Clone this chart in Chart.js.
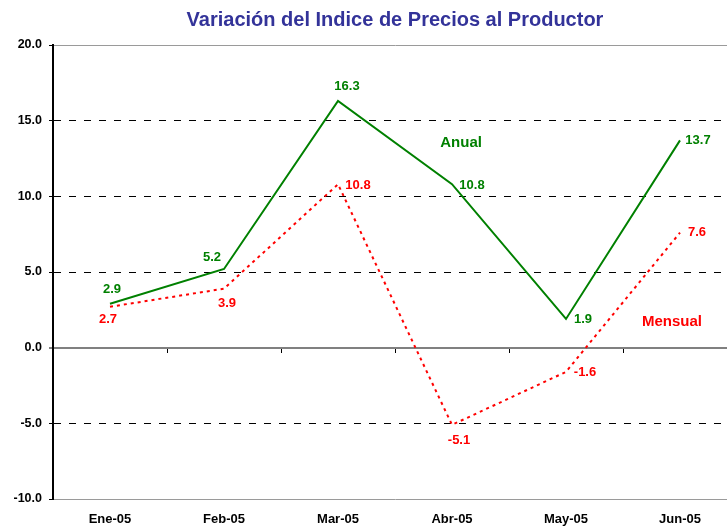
<!DOCTYPE html>
<html>
<head>
<meta charset="utf-8">
<script src="https://cdn.jsdelivr.net/npm/chart.js@4"></script>
<style>
html, body { margin:0; padding:0; overflow:hidden; background:#fff; width:727px; height:526px; }
#wrap { position:absolute; left:0; top:0; width:790px; height:526px; }
</style>
</head>
<body>
<div id="wrap"><canvas id="c"></canvas></div>
<script>
const categories = ['Ene-05','Feb-05','Mar-05','Abr-05','May-05','Jun-05'];
const anual = [2.9, 5.2, 16.3, 10.8, 1.9, 13.7];
const mensual = [2.7, 3.9, 10.8, -5.1, -1.6, 7.6];
const yTicks = [-10, -5, 0, 5, 10, 15, 20];
const seriesNames = ['Anual', 'Mensual'];
const titleText = 'Variación del Indice de Precios al Productor';

// label placement (pixel offsets from the point) — style only
const labelOffsets = [
  [[2,-14],[-12,-12],[9,-15],[20,1],[17,1],[18,0]],
  [[-2,13],[3,15],[20,1],[7,16],[19,1],[17,0]]
];
// series name annotation anchors (in data space: category index, value)
const nameAnchors = [[3.08, 13.55], [4.93, 1.72]];

const FONT = "'Liberation Sans', Arial, sans-serif";
const GREEN = '#008000';
const RED = '#ff0000';
const colors = [GREEN, RED];

const labelPlugin = {
  id: 'labels',
  afterDatasetsDraw(chart) {
    const ctx = chart.ctx;
    ctx.save();
    ctx.textAlign = 'center';
    ctx.textBaseline = 'middle';
    chart.data.datasets.forEach((ds, di) => {
      const meta = chart.getDatasetMeta(di);
      ctx.fillStyle = colors[di];
      ctx.font = 'bold 13px ' + FONT;
      meta.data.forEach((pt, i) => {
        const off = labelOffsets[di][i];
        ctx.fillText(ds.data[i].toFixed(1), pt.x + off[0], pt.y + off[1]);
      });
      ctx.font = 'bold 15px ' + FONT;
      const a = nameAnchors[di];
      const x = chart.scales.x.getPixelForValue(a[0]);
      const y = chart.scales.y.getPixelForValue(a[1]);
      ctx.fillText(seriesNames[di], x, y);
    });
    ctx.restore();
  }
};

const special = v => v === 20 || v === -10 || v === 0;

new Chart(document.getElementById('c'), {
  type: 'line',
  data: {
    labels: categories,
    datasets: [
      { label: seriesNames[0], data: anual, borderColor: GREEN, borderWidth: 2, pointRadius: 0, tension: 0, fill: false },
      { label: seriesNames[1], data: mensual, borderColor: RED, borderWidth: 2, borderDash: [3,4], pointRadius: 0, tension: 0, fill: false }
    ]
  },
  options: {
    responsive: true,
    maintainAspectRatio: false,
    animation: false,
    layout: { padding: { left: 0, right: 53, top: 0, bottom: 0 } },
    plugins: {
      legend: { display: false },
      tooltip: { enabled: false },
      title: {
        display: true,
        fullSize: false,
        text: titleText,
        color: '#333399',
        font: { family: FONT, size: 20, weight: 'bold' },
        padding: { top: 8, bottom: 13 }
      }
    },
    scales: {
      x: {
        type: 'category',
        position: 'bottom',
        offset: true,
        grid: { display: false, drawTicks: false },
        border: { display: false },
        ticks: { color: '#000', font: { family: FONT, size: 13, weight: 'bold' }, padding: 13, maxRotation: 0 },
        afterFit: s => { s.height = 27; }
      },
      x0: {
        type: 'category',
        position: { y: 0 },
        offset: true,
        grid: { offset: true, drawOnChartArea: false, drawTicks: true, tickLength: 4, color: '#000', tickColor: '#000' },
        border: { display: true, color: '#808080', width: 2 },
        ticks: { display: false }
      },
      y: {
        min: -10,
        max: 20,
        afterBuildTicks: s => { s.ticks = yTicks.map(v => ({ value: v })); },
        afterFit: s => { s.width = 53; },
        ticks: {
          color: '#000',
          font: { family: FONT, size: 12.5, weight: 'bold' },
          padding: 7,
          callback: v => Number(v).toFixed(1)
        },
        grid: {
          color: ctx => {
            const v = ctx.tick ? ctx.tick.value : null;
            if (v === 0) return '#808080';
            if (v === 20 || v === -10) return '#9a9a9a';
            return '#000';
          },
          lineWidth: ctx => (ctx.tick && ctx.tick.value === 0) ? 2 : 1,
          drawTicks: true,
          tickLength: 4,
          tickColor: '#000',
          tickWidth: 1
        },
        border: {
          display: true,
          color: '#000',
          width: 2,
          dash: ctx => (!ctx.tick || special(ctx.tick.value)) ? [] : [7, 8]
        }
      }
    }
  },
  plugins: [labelPlugin]
});
</script>
</body>
</html>
